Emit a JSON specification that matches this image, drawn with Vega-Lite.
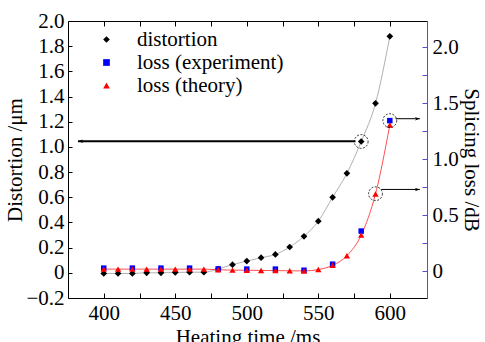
{
  "$schema": "https://vega.github.io/schema/vega-lite/v6.json",
  "width": 359,
  "height": 277,
  "autosize": "none",
  "padding": {"left": 68, "top": 21, "right": 58, "bottom": 44},
  "config": {
    "font": "Liberation Serif",
    "style": {
      "guide-label": {"font": "Liberation Serif", "fontSize": 21, "fill": "black"},
      "guide-title": {"font": "Liberation Serif", "fontSize": 21, "fill": "black"}
    },
    "view": {"stroke": "black", "strokeWidth": 1},
    "axis": {
      "grid": false,
      "labelFont": "Liberation Serif",
      "titleFont": "Liberation Serif",
      "labelFontSize": 21,
      "titleFontSize": 21,
      "titleFontWeight": "normal",
      "labelColor": "black",
      "titleColor": "black",
      "tickColor": "black",
      "domainColor": "black"
    },
    "legend": {"labelFont": "Liberation Serif", "labelFontSize": 21, "labelColor": "black"}
  },
  "datasets": {
    "dist": [
      {"t": 400, "v": -0.005, "series": "distortion"},
      {"t": 410, "v": -0.005, "series": "distortion"},
      {"t": 420, "v": -0.005, "series": "distortion"},
      {"t": 430, "v": 0.0, "series": "distortion"},
      {"t": 440, "v": 0.0, "series": "distortion"},
      {"t": 450, "v": 0.003, "series": "distortion"},
      {"t": 460, "v": 0.005, "series": "distortion"},
      {"t": 470, "v": 0.005, "series": "distortion"},
      {"t": 480, "v": 0.03, "series": "distortion"},
      {"t": 490, "v": 0.065, "series": "distortion"},
      {"t": 500, "v": 0.093, "series": "distortion"},
      {"t": 510, "v": 0.12, "series": "distortion"},
      {"t": 520, "v": 0.146, "series": "distortion"},
      {"t": 530, "v": 0.205, "series": "distortion"},
      {"t": 540, "v": 0.29, "series": "distortion"},
      {"t": 550, "v": 0.41, "series": "distortion"},
      {"t": 560, "v": 0.6, "series": "distortion"},
      {"t": 570, "v": 0.79, "series": "distortion"},
      {"t": 580, "v": 1.043, "series": "distortion"},
      {"t": 590, "v": 1.346, "series": "distortion"},
      {"t": 600, "v": 1.878, "series": "distortion"}
    ],
    "exp": [
      {"t": 400, "v": 0.027, "series": "loss (experiment)"},
      {"t": 420, "v": 0.027, "series": "loss (experiment)"},
      {"t": 440, "v": 0.027, "series": "loss (experiment)"},
      {"t": 460, "v": 0.027, "series": "loss (experiment)"},
      {"t": 480, "v": 0.02, "series": "loss (experiment)"},
      {"t": 500, "v": 0.018, "series": "loss (experiment)"},
      {"t": 520, "v": 0.018, "series": "loss (experiment)"},
      {"t": 540, "v": 0.008, "series": "loss (experiment)"},
      {"t": 560, "v": 0.062, "series": "loss (experiment)"},
      {"t": 580, "v": 0.358, "series": "loss (experiment)"},
      {"t": 600, "v": 1.345, "series": "loss (experiment)"}
    ],
    "theory": [
      {"t": 400, "v": 0.018, "series": "loss (theory)"},
      {"t": 410, "v": 0.018, "series": "loss (theory)"},
      {"t": 420, "v": 0.018, "series": "loss (theory)"},
      {"t": 430, "v": 0.018, "series": "loss (theory)"},
      {"t": 440, "v": 0.018, "series": "loss (theory)"},
      {"t": 450, "v": 0.018, "series": "loss (theory)"},
      {"t": 460, "v": 0.018, "series": "loss (theory)"},
      {"t": 470, "v": 0.018, "series": "loss (theory)"},
      {"t": 480, "v": 0.012, "series": "loss (theory)"},
      {"t": 490, "v": 0.009, "series": "loss (theory)"},
      {"t": 500, "v": 0.008, "series": "loss (theory)"},
      {"t": 510, "v": 0.006, "series": "loss (theory)"},
      {"t": 520, "v": 0.005, "series": "loss (theory)"},
      {"t": 530, "v": 0.003, "series": "loss (theory)"},
      {"t": 540, "v": 0.002, "series": "loss (theory)"},
      {"t": 550, "v": 0.014, "series": "loss (theory)"},
      {"t": 560, "v": 0.052, "series": "loss (theory)"},
      {"t": 570, "v": 0.138, "series": "loss (theory)"},
      {"t": 580, "v": 0.322, "series": "loss (theory)"},
      {"t": 590, "v": 0.69, "series": "loss (theory)"},
      {"t": 600, "v": 1.306, "series": "loss (theory)"}
    ],
    "circL": [{"t": 580, "v": 1.043}],
    "circR": [{"t": 600, "v": 1.345}, {"t": 590, "v": 0.692}],
    "arrL": [{"t1": 576, "t2": 382, "v": 1.045}],
    "arrR": [{"t1": 604, "t2": 621, "v": 1.362}, {"t1": 594, "t2": 621, "v": 0.73}]
  },
  "layer": [
    {
      "encoding": {
        "x": {
          "field": "t", "type": "quantitative",
          "scale": {"domain": [375, 626], "nice": false, "zero": false},
          "axis": {
            "orient": "bottom",
            "values": [400, 425, 450, 475, 500, 525, 550, 575, 600],
            "labelExpr": "datum.value % 50 == 0 ? datum.label : ''",
            "domain": false,
            "tickSize": -5,
            "labelPadding": 9,
            "title": "Heating time /ms",
            "titlePadding": 3,
            "encode": {"labels": {"update": {"font": {"value": "Liberation Serif"}}}}
          }
        },
        "y": {
          "field": "v", "type": "quantitative",
          "scale": {"domain": [-0.2, 2.0], "nice": false, "zero": false},
          "axis": {
            "orient": "left",
            "values": [-0.2, 0, 0.2, 0.4, 0.6, 0.8, 1.0, 1.2, 1.4, 1.6, 1.8, 2.0],
            "labelExpr": "datum.value == 0 ? '0' : replace(format(datum.value, '.1f'), '-', '−')",
            "domain": false,
            "tickSize": -4,
            "labelPadding": 8,
            "title": "Distortion /μm",
            "titlePadding": 0,
            "encode": {"labels": {"update": {"font": {"value": "Liberation Serif"}}}}
          }
        }
      },
      "layer": [
        {
          "data": {"name": "dist"},
          "mark": {"type": "line", "interpolate": "monotone", "color": "#b0b0b0", "strokeWidth": 1}
        },
        {
          "data": {"name": "dist"},
          "mark": {"type": "point", "filled": true, "size": 45, "opacity": 1},
          "encoding": {
            "color": {"field": "series", "type": "nominal",
              "scale": {"domain": ["distortion", "loss (experiment)", "loss (theory)"], "range": ["black", "blue", "red"]},
              "legend": {"title": null, "orient": "none", "legendX": 28, "legendY": 8, "rowPadding": 1, "labelOffset": 20, "symbolSize": 45, "labelFont": "Liberation Serif", "labelFontSize": 21, "labelColor": "black",
                "encode": {"labels": {"update": {"font": {"value": "Liberation Serif"}}}}}},
            "shape": {"field": "series", "type": "nominal",
              "scale": {"domain": ["distortion", "loss (experiment)", "loss (theory)"], "range": ["diamond", "square", "triangle-up"]}}
          }
        },
        {
          "data": {"name": "circL"},
          "mark": {"type": "point", "shape": "circle", "filled": false, "size": 190, "stroke": "black", "strokeWidth": 0.8, "strokeDash": [2, 1.5], "opacity": 1}
        },
        {
          "data": {"name": "arrL"},
          "mark": {"type": "rule", "color": "black", "strokeWidth": 2},
          "encoding": {"x": {"field": "t1", "type": "quantitative"}, "x2": {"field": "t2"}}
        },
        {
          "data": {"name": "arrL"},
          "mark": {"type": "point", "shape": "M 0 0 L 1 -0.35 L 0.7 0 L 1 0.35 Z", "filled": true, "color": "black", "size": 110, "opacity": 1},
          "encoding": {"x": {"field": "t2", "type": "quantitative"}}
        }
      ]
    },
    {
      "encoding": {
        "x": {
          "field": "t", "type": "quantitative",
          "scale": {"domain": [375, 626], "nice": false, "zero": false},
          "axis": {
            "orient": "top",
            "values": [400, 425, 450, 475, 500, 525, 550, 575, 600],
            "labels": false,
            "domain": false,
            "tickSize": -5,
            "title": null
          }
        },
        "y": {
          "field": "v", "type": "quantitative",
          "scale": {"domain": [-0.24, 2.235], "nice": false, "zero": false},
          "axis": {
            "orient": "right",
            "values": [0, 0.25, 0.5, 0.75, 1.0, 1.25, 1.5, 1.75, 2.0],
            "labelExpr": "datum.value == 0 ? '0' : (datum.value * 2) % 1 == 0 ? format(datum.value, '.1f') : ''",
            "domainColor": "#5050d0",
            "tickColor": "#5050d0",
            "tickSize": -5,
            "labelPadding": 10,
            "title": "Splicing loss /dB",
            "titlePadding": 2,
            "encode": {"labels": {"update": {"font": {"value": "Liberation Serif"}}}}
          }
        }
      },
      "layer": [
        {
          "data": {"name": "theory"},
          "mark": {"type": "line", "interpolate": "monotone", "color": "#ff5050", "strokeWidth": 1}
        },
        {
          "data": {"name": "exp"},
          "mark": {"type": "point", "filled": true, "size": 30, "opacity": 1},
          "encoding": {
            "color": {"field": "series", "type": "nominal"},
            "shape": {"field": "series", "type": "nominal"}
          }
        },
        {
          "data": {"name": "theory"},
          "mark": {"type": "point", "filled": true, "size": 40, "opacity": 1},
          "encoding": {
            "color": {"field": "series", "type": "nominal"},
            "shape": {"field": "series", "type": "nominal"}
          }
        },
        {
          "data": {"name": "circR"},
          "mark": {"type": "point", "shape": "circle", "filled": false, "size": 190, "stroke": "black", "strokeWidth": 0.8, "strokeDash": [2, 1.5], "opacity": 1}
        },
        {
          "data": {"name": "arrR"},
          "mark": {"type": "rule", "color": "black", "strokeWidth": 1},
          "encoding": {"x": {"field": "t1", "type": "quantitative"}, "x2": {"field": "t2"}}
        },
        {
          "data": {"name": "arrR"},
          "mark": {"type": "point", "shape": "M 0 0 L -1 -0.35 L -0.7 0 L -1 0.35 Z", "filled": true, "color": "black", "size": 100, "opacity": 1},
          "encoding": {"x": {"field": "t2", "type": "quantitative"}}
        }
      ]
    }
  ],
  "resolve": {"scale": {"y": "independent"}, "axis": {"x": "independent", "y": "independent"}}
}
